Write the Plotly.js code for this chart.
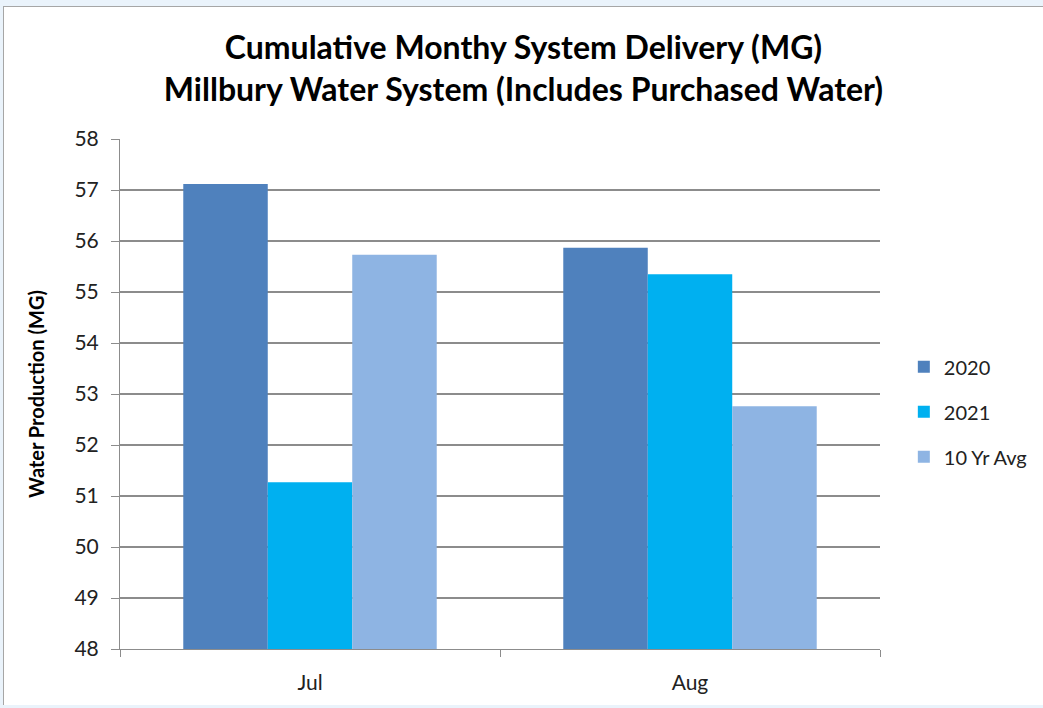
<!DOCTYPE html>
<html>
<head>
<meta charset="utf-8">
<script src="https://cdn.plot.ly/plotly-3.0.1.min.js"></script>
<style>
html,body{margin:0;padding:0;background:#eaf3fb;width:1043px;height:708px;overflow:hidden;}
#chart{position:absolute;left:3px;top:6px;width:1040px;height:698px;border-left:1px solid #a6a6a6;border-top:1px solid #a6a6a6;background:#fff;}
</style>
</head>
<body>
<div id="chart"></div>
<script>
const categories = ["Jul", "Aug"];
const seriesNames = ["2020", "2021", "10 Yr Avg"];
const values2020 = [57.12, 55.87];
const values2021 = [51.27, 55.35];
const valuesAvg = [55.73, 52.76];
const colors = ["#4f81bd", "#00b0f0", "#8eb4e3"];
const yTicks = [48, 49, 50, 51, 52, 53, 54, 55, 56, 57, 58];
const axisBase = 48;

const font = "Lato, 'Open Sans', sans-serif";
const allValues = [values2020, values2021, valuesAvg];
const traces = allValues.map((v, i) => ({
  type: "bar",
  name: seriesNames[i],
  x: categories,
  y: v.map(val => val - axisBase),
  base: axisBase,
  marker: {color: colors[i], line: {width: 0}},
  legendgroup: "g" + i,
  hoverinfo: "x+name"
}));

const layout = {
  width: 1039, height: 697,
  margin: {l: 116, r: 162, t: 132, b: 55},
  paper_bgcolor: "#ffffff",
  plot_bgcolor: "#ffffff",
  font: {family: font, color: "#000", size: 20},
  title: {
    text: "<b>Cumulative Monthy System Delivery (MG)<br>Millbury Water System (Includes Purchased Water)</b>",
    font: {family: font, size: 32, color: "#000"},
    x: 0.5, xanchor: "center", y: 0.925, yanchor: "middle"
  },
  barmode: "group",
  bargap: 0.333,
  bargroupgap: 0,
  showlegend: true,
  legend: {
    x: 1.03, xanchor: "left", y: 0.465, yanchor: "middle",
    font: {family: font, size: 20, color: "#222"},
    traceorder: "grouped", tracegroupgap: 16,
    bgcolor: "rgba(0,0,0,0)"
  },
  xaxis: {
    type: "category",
    showline: true, linecolor: "#8c8c8c", linewidth: 1,
    ticks: "outside", tickson: "boundaries", ticklen: 7, tickcolor: "#8c8c8c",
    ticklabelstandoff: 15,
    showgrid: false, zeroline: false,
    tickfont: {family: font, size: 21, color: "#222"}
  },
  yaxis: {
    range: [48, 58], tickvals: yTicks,
    showline: true, linecolor: "#8c8c8c", linewidth: 1,
    ticks: "outside", ticklen: 8, tickcolor: "#8c8c8c",
    ticklabelstandoff: 8,
    showgrid: true, gridcolor: "#8c8c8c", gridwidth: 1.3,
    zeroline: false,
    tickfont: {family: font, size: 21, color: "#222"},
    title: {text: "<b>Water Production (MG)</b>", font: {family: font, size: 20, color: "#000"}, standoff: 24}
  }
};

Plotly.newPlot("chart", traces, layout, {displayModeBar: false, staticPlot: true});
</script>
</body>
</html>
